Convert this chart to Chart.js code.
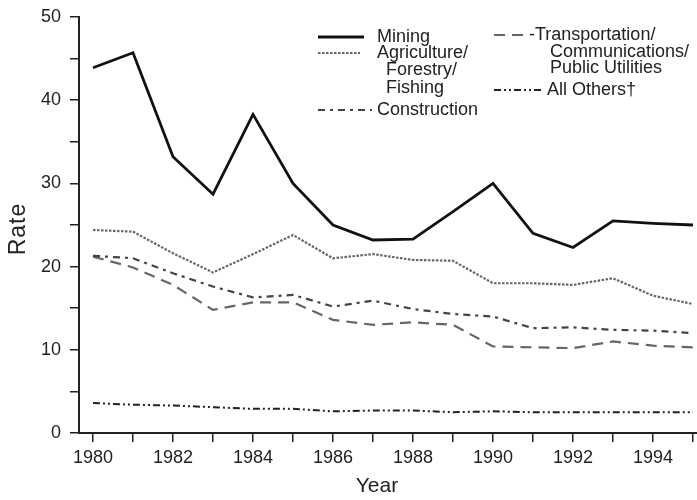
<!DOCTYPE html>
<html>
<head>
<meta charset="utf-8">
<script src="https://cdn.jsdelivr.net/npm/chart.js@4/dist/chart.umd.min.js"></script>
<style>
  html, body { margin: 0; padding: 0; background: #fff; }
  #wrap { width: 697px; height: 500px; }
</style>
</head>
<body>
<div id="wrap"><canvas id="rateChart"></canvas></div>
<script>
// dati
const years = [1980, 1981, 1982, 1983, 1984, 1985, 1986, 1987, 1988, 1989, 1990, 1991, 1992, 1993, 1994, 1995];
const mining       = [43.9, 45.7, 33.2, 28.7, 38.3, 30.0, 25.0, 23.2, 23.3, 26.6, 30.0, 24.0, 22.3, 25.5, 25.2, 25.0];
const agriculture  = [24.4, 24.2, 21.6, 19.3, 21.5, 23.8, 21.0, 21.5, 20.8, 20.7, 18.0, 18.0, 17.8, 18.6, 16.5, 15.5];
const construction = [21.3, 21.0, 19.2, 17.6, 16.3, 16.6, 15.2, 15.9, 14.9, 14.3, 14.0, 12.6, 12.7, 12.4, 12.3, 12.0];
const transport    = [21.2, 19.9, 17.8, 14.8, 15.7, 15.7, 13.6, 13.0, 13.3, 13.0, 10.4, 10.3, 10.2, 11.0, 10.5, 10.3];
const allOthers    = [3.6, 3.4, 3.3, 3.1, 2.9, 2.9, 2.6, 2.7, 2.7, 2.5, 2.6, 2.5, 2.5, 2.5, 2.5, 2.5];
const yTickLabels  = [0, 10, 20, 30, 40, 50];
const xTickLabels  = [1980, 1982, 1984, 1986, 1988, 1990, 1992, 1994];

const FONT = '"Liberation Sans", Arial, Helvetica, sans-serif';

function pts(vals) {
  return vals.map((v, i) => ({ x: years[i], y: v }));
}

// legenda disegnata a mano (etichette su piu righe, due colonne)
const legendItems = [
  { ds: 0, x1: 318, x2: 364, y: 37, lines: [['Mining', 377, 37]] },
  { ds: 1, x1: 318, x2: 360, y: 53, lines: [['Agriculture/', 377, 53], ['Forestry/', 386, 70], ['Fishing', 386, 88]] },
  { ds: 2, x1: 318, x2: 372, y: 110, lines: [['Construction', 377, 110]] },
  { ds: 3, x1: 494, x2: 528, y: 35, lines: [['-Transportation/', 529, 35], ['Communications/', 550, 52], ['Public Utilities', 550, 68]] },
  { ds: 4, x1: 494, x2: 543, y: 90, lines: [['All Others\u2020', 547, 90]] }
];

const legendPlugin = {
  id: 'customLegend',
  afterDraw(chart) {
    const ctx = chart.ctx;
    ctx.save();
    legendItems.forEach(it => {
      const ds = chart.data.datasets[it.ds];
      ctx.strokeStyle = ds.borderColor;
      ctx.lineWidth = ds.borderWidth;
      ctx.setLineDash(ds.borderDash || []);
      ctx.beginPath();
      ctx.moveTo(it.x1, it.y);
      ctx.lineTo(it.x2, it.y);
      ctx.stroke();
      ctx.setLineDash([]);
      ctx.fillStyle = '#222';
      ctx.font = '18px ' + FONT;
      ctx.textBaseline = 'middle';
      ctx.textAlign = 'left';
      it.lines.forEach(l => ctx.fillText(l[0], l[1], l[2]));
    });

    // titoli degli assi
    ctx.font = '21px ' + FONT;
    ctx.textAlign = 'center';
    ctx.textBaseline = 'middle';
    ctx.fillText('Year', 377, 486);
    ctx.translate(19, 229);
    ctx.rotate(-Math.PI / 2);
    ctx.font = '23px ' + FONT;
    ctx.letterSpacing = '1px';
    ctx.fillText('Rate', 0, 0);
    ctx.restore();
  }
};

new Chart(document.getElementById('rateChart').getContext('2d'), {
  type: 'line',
  data: {
    datasets: [
      { label: 'Mining', data: pts(mining), borderColor: '#111', borderWidth: 2.8, borderDash: [] },
      { label: 'Agriculture/Forestry/Fishing', data: pts(agriculture), borderColor: '#666', borderWidth: 2.2, borderDash: [2.5, 1.5] },
      { label: 'Construction', data: pts(construction), borderColor: '#444', borderWidth: 2.2, borderDash: [7, 5, 3, 5] },
      { label: 'Transportation/Communications/Public Utilities', data: pts(transport), borderColor: '#666', borderWidth: 2.2, borderDash: [11, 7] },
      { label: 'All Others', data: pts(allOthers), borderColor: '#222', borderWidth: 2, borderDash: [7, 3, 2, 3, 2, 3] }
    ]
  },
  options: {
    responsive: true,
    maintainAspectRatio: false,
    animation: false,
    layout: { padding: { top: 17, right: 0, left: 0, bottom: 0 } },
    elements: { point: { radius: 0 }, line: { tension: 0, borderJoinStyle: 'miter' } },
    scales: {
      x: {
        type: 'linear',
        min: 1979.65,
        max: 1995.1,
        afterBuildTicks: s => { s.ticks = years.map(v => ({ value: v })); },
        afterFit: s => { s.height = 67; s.paddingLeft = 0; s.paddingRight = 0; },
        border: { display: true, color: '#222', width: 2 },
        grid: { drawOnChartArea: false, drawTicks: true, tickLength: 9, color: '#222', lineWidth: 1.5 },
        ticks: {
          autoSkip: false,
          maxRotation: 0,
          padding: 5,
          color: '#222',
          font: { family: FONT, size: 18 },
          callback: v => xTickLabels.includes(v) ? String(v) : ''
        }
      },
      y: {
        min: 0,
        max: 50,
        afterBuildTicks: s => {
          const t = [];
          for (let v = 0; v <= 50; v += 5) t.push({ value: v });
          s.ticks = t;
        },
        afterFit: s => { s.width = 79; s.paddingTop = 0; s.paddingBottom = 0; },
        border: { display: true, color: '#222', width: 2 },
        grid: { drawOnChartArea: false, drawTicks: true, tickLength: 9, color: '#222', lineWidth: 1.5 },
        ticks: {
          autoSkip: false,
          padding: 9,
          color: '#222',
          font: { family: FONT, size: 18 },
          callback: v => yTickLabels.includes(v) ? String(v) : ''
        }
      }
    },
    plugins: {
      legend: { display: false },
      tooltip: { enabled: false }
    }
  },
  plugins: [legendPlugin]
});
</script>
</body>
</html>
